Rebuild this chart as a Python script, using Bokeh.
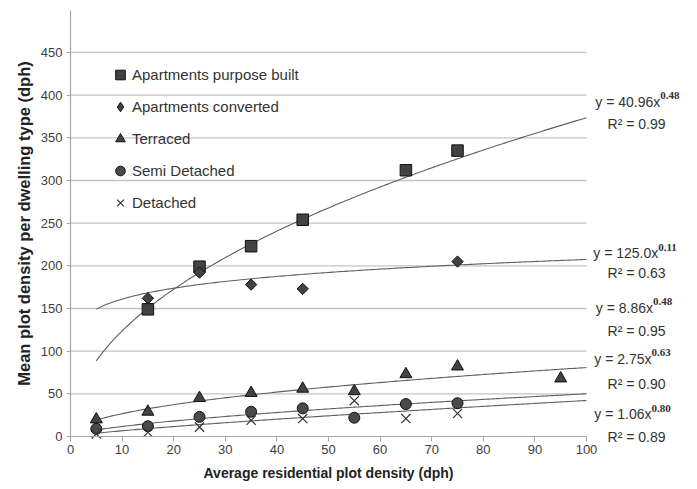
import numpy as np
from bokeh.plotting import figure
from bokeh.models import Label, Legend, LegendItem, Range1d, FixedTicker
from bokeh.embed import file_html
from bokeh.resources import INLINE

# ---------------- data ----------------
x_ticks = [0, 10, 20, 30, 40, 50, 60, 70, 80, 90, 100]
y_ticks = [0, 50, 100, 150, 200, 250, 300, 350, 400, 450]

series_names = ["Apartments purpose built", "Apartments converted",
                "Terraced", "Semi Detached", "Detached"]

apb_x = [15, 25, 35, 45, 65, 75]
apb_y = [149, 199, 223, 254, 312, 335]

apc_x = [15, 25, 35, 45, 75]
apc_y = [162, 192, 178, 173, 205]

ter_x = [5, 15, 25, 35, 45, 55, 65, 75, 95]
ter_y = [20, 29, 45, 51, 56, 53, 73, 82, 68]

semi_x = [5, 15, 25, 35, 45, 55, 65, 75]
semi_y = [9, 12, 23, 29, 33, 22, 38, 39]

det_x = [5, 15, 25, 35, 45, 55, 65, 75]
det_y = [3, 5, 11, 19, 21, 42, 21, 27]

# power trend lines y = a * x^b (as printed on the chart)
fit_a = [40.96, 125.0, 8.86, 2.75, 1.06]
fit_b = [0.48, 0.11, 0.48, 0.63, 0.80]
fit_x = [5, 100]
eq_main = ["y = 40.96x", "y = 125.0x", "y = 8.86x", "y = 2.75x", "y = 1.06x"]
eq_exp = ["0.48", "0.11", "0.48", "0.63", "0.80"]
r2_text = ["R\u00b2 = 0.99", "R\u00b2 = 0.63", "R\u00b2 = 0.95", "R\u00b2 = 0.90", "R\u00b2 = 0.89"]

# annotation layout (data units)
eq_end_x = [114.3, 113.9, 112.9, 112.6, 112.6]
eq_y = [392, 215, 151, 91, 26]
r2_x = 109.7
r2_y = [366, 192, 124, 61, -1]

FONT = "Liberation Sans"
TXT = "#333333"
MFILL = "#424242"
MLINE = "#111111"

W, H = 689, 485
p = figure(width=W, height=H,
           x_range=Range1d(-13.566, 119.96), y_range=Range1d(-57.42, 510.9),
           output_backend="svg", toolbar_location=None,
           min_border=0, min_border_left=0, min_border_right=0,
           min_border_top=0, min_border_bottom=0)
p.outline_line_color = None
p.xgrid.visible = False
p.ygrid.visible = False
p.background_fill_color = "white"
p.border_fill_color = "white"

# horizontal gridlines, spanning 0..100 only
gy = y_ticks[1:]
p.segment(x0=[x_ticks[0]] * len(gy), y0=gy, x1=[x_ticks[-1]] * len(gy), y1=gy,
          line_color="#c4c4c4", line_width=1.3)

# axes (fixed at the data origin, inside the frame)
for ax in (p.xaxis, p.yaxis):
    ax.fixed_location = 0
    ax.axis_line_color = "#a6a6a6"
    ax.axis_line_width = 1.2
    ax.major_tick_line_color = "#a6a6a6"
    ax.major_tick_in = 0
    ax.minor_tick_out = 0
    ax.minor_tick_in = 0
    ax.major_label_text_font = FONT
    ax.major_label_text_font_size = "13px"
    ax.major_label_text_color = "#404040"
    ax.axis_label_text_font = FONT
    ax.axis_label_text_font_style = "bold"
    ax.axis_label_text_color = "#222222"

p.xaxis.ticker = FixedTicker(ticks=x_ticks)
p.xaxis.bounds = (x_ticks[0], x_ticks[-1])
p.xaxis.major_tick_out = 5
p.xaxis.major_label_standoff = 4
p.xaxis.axis_label = "Average residential plot density (dph)"
p.xaxis.axis_label_text_font_size = "14px"
p.xaxis.axis_label_standoff = 7

p.yaxis.ticker = FixedTicker(ticks=y_ticks)
p.yaxis.bounds = (0, 499)
p.yaxis.major_tick_out = 4
p.yaxis.major_label_standoff = 4
p.yaxis.axis_label = "Mean plot density per dwelling type (dph)"
p.yaxis.axis_label_text_font_size = "16.5px"
p.yaxis.axis_label_standoff = 5

# trend lines
for a, b in zip(fit_a, fit_b):
    xs = np.linspace(fit_x[0], fit_x[1], 200)
    p.line(xs, a * xs ** b, line_color="#606060", line_width=1.1)

# markers
r_apb = p.scatter(apb_x, apb_y, marker="square", size=11.5,
                  fill_color=MFILL, line_color=MLINE, line_width=1)
r_apc = p.scatter(apc_x, apc_y, marker="square", angle=np.pi / 4, size=8,
                  fill_color=MFILL, line_color=MLINE, line_width=1)
# legend swatch for the converted apartments (legend glyphs ignore rotation)
r_apc_key = p.scatter(x=[np.nan], y=[np.nan], marker="diamond", size=12,
                      fill_color=MFILL, line_color=MLINE, line_width=1)
r_ter = p.scatter(ter_x, ter_y, marker="triangle", size=12,
                  fill_color=MFILL, line_color=MLINE, line_width=1)
r_semi = p.scatter(semi_x, semi_y, marker="circle", size=11,
                   fill_color="#4a4a4a", line_color=MLINE, line_width=1)
r_det = p.scatter(det_x, det_y, marker="x", size=13,
                  line_color="#333333", line_width=1.2)

legend = Legend(items=[LegendItem(label=n, renderers=[r]) for n, r in
                       zip(series_names, [r_apb, r_apc_key, r_ter, r_semi, r_det])],
                location=(108, 270), orientation="vertical",
                padding=0, margin=0, spacing=7,
                glyph_width=24, glyph_height=25, label_height=20,
                label_standoff=-3,
                border_line_alpha=0, background_fill_alpha=0,
                label_text_font=FONT, label_text_font_size="15px",
                label_text_color=TXT)
p.add_layout(legend)

# equation annotations
for i in range(len(eq_main)):
    p.add_layout(Label(x=eq_end_x[i], y=eq_y[i], text=eq_main[i],
                       text_align="right", text_baseline="middle",
                       text_font=FONT, text_font_size="14px", text_color=TXT))
    p.add_layout(Label(x=eq_end_x[i], y=eq_y[i] + 7, text=eq_exp[i],
                       text_align="left", text_baseline="middle",
                       text_font="Liberation Serif", text_font_style="bold",
                       text_font_size="11px", text_color=TXT))
    p.add_layout(Label(x=r2_x, y=r2_y[i], text=r2_text[i],
                       text_align="center", text_baseline="middle",
                       text_font=FONT, text_font_size="14px", text_color=TXT))

open("out.html", "w").write(file_html(p, INLINE))
